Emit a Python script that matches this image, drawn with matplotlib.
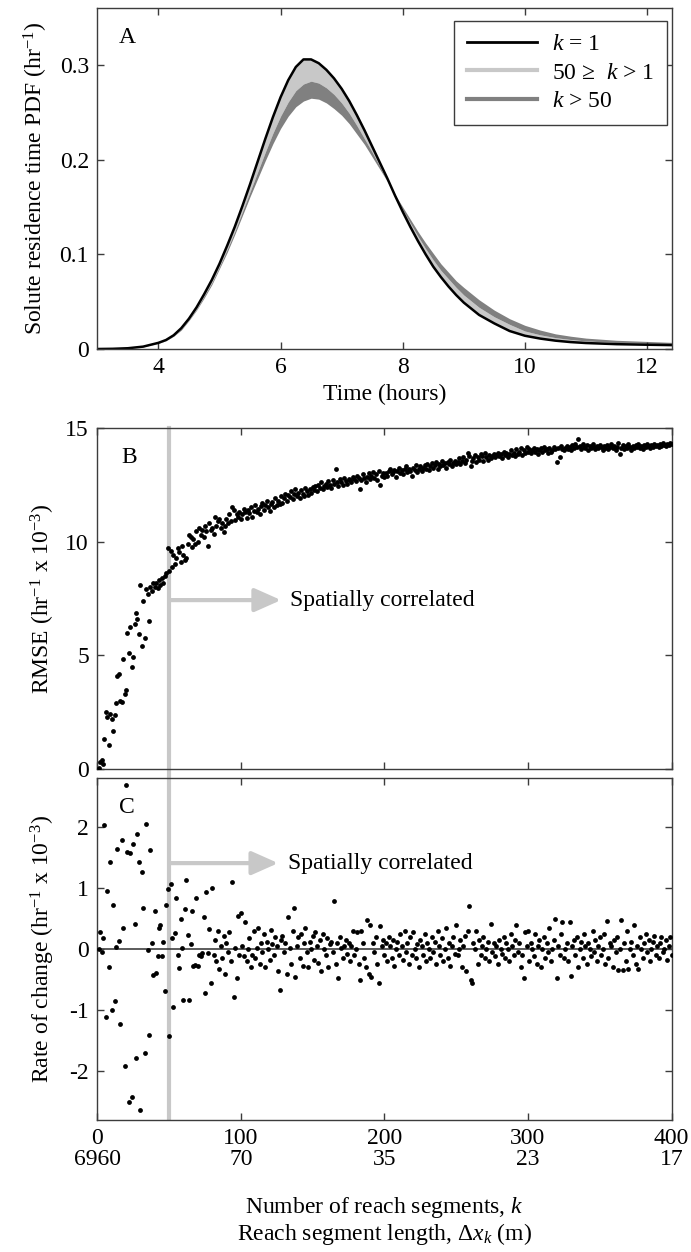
import numpy as np
import matplotlib
matplotlib.use('Agg')
import matplotlib.pyplot as plt

plt.rcParams['font.family'] = ['Liberation Serif', 'DejaVu Serif']
plt.rcParams['font.size'] = 17
plt.rcParams['mathtext.fontset'] = 'custom'
plt.rcParams['mathtext.rm'] = 'Liberation Serif'
plt.rcParams['mathtext.it'] = 'Liberation Serif:italic'
plt.rcParams['axes.unicode_minus'] = False

# ---- Panel A: residence time PDFs ----
time_hr = [3.0, 3.25, 3.5, 3.75,
           4.0, 4.125, 4.25, 4.375, 4.5, 4.625, 4.75, 4.875,
           5.0, 5.125, 5.25, 5.375, 5.5, 5.625, 5.75, 5.875,
           6.0, 6.125, 6.25, 6.375, 6.5, 6.625, 6.75, 6.875,
           7.0, 7.125, 7.25, 7.375, 7.5, 7.625, 7.75, 7.875,
           8.0, 8.125, 8.25, 8.375, 8.5, 8.625, 8.75, 8.875,
           9.0, 9.25, 9.5, 9.75, 10.0, 10.25, 10.5, 10.75, 11.0, 11.5, 12.0, 12.4]
pdf_k1 = [0.0, 0.0002, 0.0008, 0.0025,
          0.0065, 0.0095, 0.0145, 0.022, 0.032, 0.044, 0.058, 0.073,
          0.090, 0.109, 0.129, 0.151, 0.174, 0.198, 0.222, 0.245,
          0.266, 0.284, 0.298, 0.306, 0.306, 0.302, 0.295, 0.286,
          0.275, 0.262, 0.247, 0.231, 0.214, 0.197, 0.180, 0.162,
          0.145, 0.129, 0.114, 0.100, 0.087, 0.076, 0.066, 0.057,
          0.049, 0.036, 0.027, 0.019, 0.014, 0.011, 0.0088, 0.0073, 0.0063, 0.0051, 0.0045, 0.0041]
pdf_k50 = [0.0, 0.0002, 0.0008, 0.0024,
           0.0062, 0.009, 0.014, 0.021, 0.031, 0.042, 0.056, 0.070,
           0.087, 0.105, 0.124, 0.145, 0.166, 0.187, 0.208, 0.228,
           0.246, 0.261, 0.273, 0.280, 0.283, 0.281, 0.276, 0.269,
           0.260, 0.249, 0.236, 0.222, 0.208, 0.193, 0.177, 0.162,
           0.147, 0.133, 0.119, 0.106, 0.094, 0.083, 0.074, 0.065,
           0.057, 0.044, 0.034, 0.026, 0.019, 0.015, 0.012, 0.010, 0.0085, 0.0068, 0.006, 0.0055]
pdf_k400 = [0.0, 0.0002, 0.0008, 0.0023,
            0.006, 0.0088, 0.0135, 0.020, 0.030, 0.041, 0.054, 0.068,
            0.085, 0.102, 0.121, 0.141, 0.161, 0.180, 0.199, 0.217,
            0.233, 0.246, 0.256, 0.262, 0.265, 0.264, 0.260, 0.254,
            0.247, 0.238, 0.227, 0.216, 0.203, 0.190, 0.177, 0.163,
            0.150, 0.137, 0.124, 0.112, 0.101, 0.090, 0.081, 0.072,
            0.065, 0.052, 0.041, 0.032, 0.025, 0.020, 0.016, 0.0135, 0.0115, 0.0092, 0.008, 0.007]

# ---- Panel B: RMSE vs number of reach segments k = 1..400 ----
rmse = [
    0.05, 0.3, 0.4, 0.25, 1.35, 2.5, 2.3, 1.05, 2.45, 2.2, 1.7, 2.4, 2.9, 4.1, 4.2,
    3.0, 2.95, 4.85, 3.3, 3.5, 6.0, 5.1, 6.25, 4.5, 4.95, 6.4, 6.85, 6.6, 5.95, 8.1,
    5.4, 7.4, 5.75, 7.9, 7.7, 6.5, 8.0, 7.85, 8.2, 8.0, 8.2, 7.95, 8.3, 8.1, 8.4,
    8.2, 8.5, 8.6, 9.7, 8.7,
    9.6, 8.9, 9.4, 9.0, 9.3, 9.7, 9.55, 9.1, 9.8, 9.4, 9.2, 9.3, 9.9, 10.3, 10.2,
    9.75, 10.1, 9.9, 10.45, 10.0, 10.6, 10.3, 10.5, 10.2, 10.7,
    10.45, 9.8, 10.8, 10.5, 10.6, 10.35, 11.1, 10.7, 10.9, 11.0, 10.6, 10.8, 10.4,
    10.7, 11.0, 10.8, 11.2, 10.9, 11.5, 11.4, 10.95, 11.2, 11.1, 11.3, 11.0,
    11.2, 11.45, 11.3, 11.05, 11.4, 11.25, 11.5, 11.1, 11.35, 11.6, 11.3, 11.45,
    11.2, 11.55, 11.7, 11.4, 11.6, 11.8, 11.5, 11.35, 11.65, 11.75, 11.5, 11.9, 11.6,
    11.8, 11.65, 12.0, 11.7, 11.9, 12.1, 11.8, 12.05, 11.95, 12.2, 11.85, 12.1, 12.3,
    12.0, 12.15, 11.9, 12.25, 12.1, 12.0, 12.35, 12.2, 12.05, 12.3, 12.15, 12.4,
    12.25, 12.45, 12.2, 12.5, 12.35, 12.6, 12.3, 12.45, 12.55, 12.4, 12.65, 12.5,
    12.35, 12.7, 12.55, 13.2, 12.6, 12.45, 12.75, 12.6, 12.5, 12.8, 12.65, 12.55, 12.75,
    12.7, 12.6, 12.85, 12.75, 12.65, 12.9, 12.8, 12.3, 12.7, 12.95, 12.8, 12.6, 12.85,
    13.0, 12.75, 12.9, 13.05, 12.8, 12.95, 12.7, 13.1, 12.5, 12.9, 13.0, 12.85,
    13.0, 12.9, 13.1, 13.2, 12.95, 13.05, 13.15, 12.85, 13.1, 13.25, 13.0, 13.15,
    12.95, 13.2, 13.3, 13.05, 13.2, 13.1, 12.9, 13.25, 13.15, 13.35, 13.05, 13.2, 13.3,
    13.1, 13.25, 13.35, 13.2, 13.4, 13.15, 13.3, 13.45, 13.25, 13.35, 13.5, 13.2, 13.4,
    13.3, 13.55, 13.35, 13.45, 13.25, 13.5, 13.4, 13.6, 13.3, 13.45, 13.55, 13.4,
    13.5, 13.65, 13.4, 13.55, 13.7, 13.45, 13.6, 13.9, 13.75, 13.3, 13.55, 13.65, 13.8,
    13.5, 13.7, 13.6, 13.85, 13.75, 13.55, 13.9, 13.7, 13.6, 13.8, 13.65, 13.75,
    13.85, 13.7, 13.8, 13.9, 13.75, 13.85, 13.65, 13.95, 13.8, 13.9, 13.7, 13.85, 14.0,
    13.8, 13.9, 13.75, 14.05, 13.85, 13.95, 14.1, 13.8, 14.0, 13.9, 14.15, 13.95,
    14.05, 13.9, 14.0, 14.1, 13.95, 14.05, 13.85, 14.0, 14.1, 13.95, 14.15, 14.0, 14.05,
    13.9, 14.1, 13.95, 14.0, 14.15, 14.05, 13.5, 14.1, 13.7, 14.2, 14.05, 14.0,
    14.1, 14.2, 14.05, 14.15, 14.0, 14.25, 14.1, 14.3, 14.15, 14.5, 14.2, 14.05, 14.3,
    14.15, 14.1, 14.25, 14.0, 14.2, 14.1, 14.3, 14.15, 14.05, 14.2, 14.1, 14.25,
    14.15, 14.0, 14.2, 14.1, 14.25, 14.05, 14.15, 14.3, 14.1, 14.2, 14.0, 14.15, 14.35,
    13.85, 14.1, 14.25, 14.05, 14.2, 14.1, 14.3, 14.15, 14.0, 14.2, 14.1, 14.25,
    14.15, 14.3, 14.1, 14.2, 14.05, 14.25, 14.15, 14.3, 14.2, 14.1, 14.25, 14.15, 14.3,
    14.2, 14.25, 14.15, 14.3, 14.2, 14.35, 14.25, 14.2, 14.3, 14.25, 14.35, 14.3,
]

# ---- Panel C: rate of change of RMSE ----
rate = [
    0.0, 0.28, -0.04, 0.18, 2.03, -1.12, 0.95, -0.29, 1.43, -0.99, 0.73, -0.85, 0.04,
    1.64, 0.13, -1.22, 1.79, 0.35, -1.92, 2.69, 1.6, -2.5, 1.57, -2.43, 1.72,
    0.41, -1.78, 1.89, 1.43, -2.63, 1.27, 0.68, -1.7, 2.05, -0.02, -1.4, 1.62, 0.1,
    -0.42, 0.62, -0.39, -0.12, 0.34, 0.39, -0.12, 0.12, -0.69, 0.72, 0.99, -1.43,
    1.06, 0.18, -0.94, 0.26, 0.84, -0.09, -0.31, 0.49, 0.02, -0.83, 0.65, 1.14, 0.24,
    -0.83, 0.08, 0.62, -0.28, -0.26, 0.84, -0.28, -0.1, -0.12, -0.06, 0.52, -0.72,
    0.94, -0.06, 0.33, -0.55, 1.0, -0.1, 0.15, -0.2, 0.3, -0.32, 0.05, -0.15, 0.22,
    -0.4, 0.1, -0.05, 0.28, -0.2, 1.1, -0.79, 0.02, -0.48, 0.55, -0.1, 0.6,
    0.05, -0.12, 0.45, -0.2, 0.0, 0.18, -0.3, -0.1, 0.3, -0.15, 0.02, 0.35, -0.25,
    0.1, -0.05, 0.25, -0.3, 0.12, 0.0, -0.18, 0.32, 0.08, -0.1, 0.2, 0.05,
    -0.35, -0.67, 0.15, 0.22, -0.05, 0.1, -0.4, 0.52, 0.02, -0.25, 0.3, 0.68, -0.45,
    0.05, 0.2, -0.15, 0.25, -0.28, 0.1, 0.35, -0.05, -0.3, 0.12, 0.0, 0.22,
    -0.18, 0.28, 0.05, -0.22, 0.15, -0.35, 0.25, 0.0, -0.1, 0.18, -0.3, 0.08, 0.12,
    -0.05, 0.79, -0.25, 0.1, -0.47, 0.2, 0.02, -0.15, 0.05, 0.15, -0.08, 0.1,
    -0.2, 0.05, 0.3, -0.1, 0.0, 0.28, -0.25, -0.5, 0.3, 0.1, -0.15, -0.3, 0.48,
    -0.4, 0.4, -0.45, 0.1, -0.05, 0.2, -0.25, -0.56, 0.38, 0.05, 0.15, -0.1,
    0.1, -0.2, 0.2, 0.05, -0.15, 0.15, -0.28, 0.0, 0.12, -0.1, 0.25, 0.05, -0.18,
    0.3, -0.05, 0.1, -0.25, 0.2, -0.1, 0.28, 0.0, -0.15, 0.08, -0.3, 0.15,
    0.05, -0.1, 0.25, -0.2, 0.1, 0.0, -0.15, 0.2, -0.05, 0.12, -0.25, 0.3, 0.05,
    -0.1, 0.18, -0.2, 0.0, 0.35, -0.15, 0.1, -0.28, 0.05, 0.2, -0.08, 0.4,
    -0.1, 0.0, 0.15, -0.3, 0.05, 0.22, -0.35, 0.3, 0.71, -0.5, -0.55, 0.1, 0.0,
    0.3, -0.25, 0.15, -0.1, 0.05, 0.2, -0.15, 0.0, 0.12, -0.2, 0.42, -0.05,
    0.1, -0.12, 0.05, -0.25, 0.15, 0.0, -0.08, 0.2, -0.15, 0.1, 0.0, -0.2, 0.25,
    0.05, -0.1, 0.15, 0.4, -0.05, 0.1, -0.3, -0.1, -0.48, 0.28, 0.05, 0.3,
    -0.2, 0.1, 0.0, -0.12, 0.25, -0.25, 0.05, 0.15, -0.3, 0.0, 0.2, -0.15, 0.1,
    -0.05, 0.35, -0.2, 0.0, 0.15, 0.5, -0.48, 0.05, -0.1, 0.25, 0.45, -0.15,
    0.0, 0.1, -0.2, 0.45, -0.44, 0.05, 0.15, -0.1, 0.2, -0.3, 0.0, 0.12, -0.15,
    0.25, 0.05, -0.25, 0.1, 0.0, -0.12, 0.3, -0.05, 0.15, -0.2, 0.05, 0.2,
    -0.1, 0.0, 0.25, -0.24, 0.46, -0.15, 0.1, 0.05, -0.3, 0.15, -0.05, 0.2, -0.34,
    0.0, 0.47, -0.34, 0.1, -0.2, 0.3, -0.33, 0.0, 0.12, -0.1, 0.4, -0.25,
    0.05, -0.33, 0.2, 0.0, -0.15, 0.1, 0.25, -0.05, 0.15, -0.2, 0.0, 0.12, 0.22,
    -0.1, 0.05, -0.15, 0.1, 0.2, -0.05, 0.0, 0.15, -0.18, 0.05, 0.2, -0.1,
]

k_split = 50
k_ticks = [0, 100, 200, 300, 400]
dx_labels = ['6960', '70', '35', '23', '17']

k_b = np.arange(1, len(rmse) + 1)
k_c = np.arange(1, len(rate) + 1)

SPINE = '#3c3c3c'
LIGHT = '#c8c8c8'
DARK = '#808080'


def style_axes(ax):
    for s in ax.spines.values():
        s.set_color(SPINE)
        s.set_linewidth(1.0)
    ax.tick_params(direction='in', top=True, right=True, length=5,
                   width=1.0, color=SPINE, labelcolor='black', pad=6)


fig = plt.figure(figsize=(6.91, 12.52), dpi=100)
L, W = 0.1408, 0.831
axA = fig.add_axes([L, 0.72125, W, 0.27212])
axB = fig.add_axes([L, 0.38554, W, 0.27284])
axC = fig.add_axes([L, 0.10543, W, 0.27292])

# Panel A
axA.fill_between(time_hr, pdf_k1, pdf_k50, color=LIGHT, lw=0)
axA.fill_between(time_hr, pdf_k50, pdf_k400, color=DARK, lw=0)
axA.plot(time_hr, pdf_k1, color='black', lw=1.8)
axA.plot([], [], color='black', lw=2, label='$k$ = 1')
axA.plot([], [], color=LIGHT, lw=3, label='50 \u2265  $k$ > 1')
axA.plot([], [], color=DARK, lw=3, label='$k$ > 50')
axA.set_xlim(3, 12.4)
axA.set_ylim(0, 0.36)
axA.set_xticks([4, 6, 8, 10, 12])
axA.set_yticks([0, 0.1, 0.2, 0.3])
axA.set_yticklabels(['0', '0.1', '0.2', '0.3'])
axA.set_xlabel('Time (hours)', labelpad=4)
axA.set_ylabel('Solute residence time PDF (hr$^{-1}$)')
axA.yaxis.set_label_coords(-0.083, 0.5)
axA.text(0.052, 0.915, 'A', transform=axA.transAxes, ha='center', va='center')
leg = axA.legend(loc='upper right', bbox_to_anchor=(0.992, 0.964), borderaxespad=0,
                 fancybox=False, framealpha=1, edgecolor=SPINE, handlelength=3.0,
                 handletextpad=0.6, labelspacing=0.3, borderpad=0.55)
leg.get_frame().set_linewidth(1.0)
style_axes(axA)

# Panel B
axB.scatter(k_b, rmse, s=12, color='black', lw=0, zorder=3)
axB.axvline(k_split, ymin=-0.03, ymax=1, color=LIGHT, lw=3, clip_on=False, zorder=1)
axB.annotate('', xy=(128, 7.43), xytext=(k_split, 7.43),
             arrowprops=dict(arrowstyle='-|>,head_length=0.9,head_width=0.4',
                             color=LIGHT, lw=3, shrinkA=0, shrinkB=0, mutation_scale=18))
axB.text(134, 7.43, 'Spatially correlated', ha='left', va='center')
axB.set_xlim(0, 400)
axB.set_ylim(0, 15)
axB.set_xticks(k_ticks)
axB.set_xticklabels([])
axB.set_yticks([0, 5, 10, 15])
axB.set_ylabel('RMSE (hr$^{-1}$ x 10$^{-3}$)')
axB.yaxis.set_label_coords(-0.07, 0.5)
axB.text(0.056, 0.914, 'B', transform=axB.transAxes, ha='center', va='center')
style_axes(axB)

# Panel C
axC.axhline(0, color='#404040', lw=1.2, zorder=2)
axC.axvline(k_split, color=LIGHT, lw=3, zorder=1)
axC.scatter(k_c, rate, s=12, color='black', lw=0, zorder=3)
axC.annotate('', xy=(126, 1.41), xytext=(k_split, 1.41),
             arrowprops=dict(arrowstyle='-|>,head_length=0.9,head_width=0.4',
                             color=LIGHT, lw=3, shrinkA=0, shrinkB=0, mutation_scale=18))
axC.text(133, 1.41, 'Spatially correlated', ha='left', va='center')
axC.set_xlim(0, 400)
axC.set_ylim(-2.8, 2.8)
axC.set_yticks([-2, -1, 0, 1, 2])
axC.set_xticks(k_ticks)
axC.set_xticklabels([f'{k}\n{d}' for k, d in zip(k_ticks, dx_labels)], linespacing=0.95)
axC.set_ylabel('Rate of change (hr$^{-1}$ x 10$^{-3}$)')
axC.yaxis.set_label_coords(-0.07, 0.5)
axC.text(0.052, 0.916, 'C', transform=axC.transAxes, ha='center', va='center')
axC.text(0.5, -0.272, 'Number of reach segments, $k$', transform=axC.transAxes,
         ha='center', va='baseline')
axC.text(0.5, -0.352, 'Reach segment length, $\\Delta x_k$ (m)', transform=axC.transAxes,
         ha='center', va='baseline')
style_axes(axC)

fig.savefig('out.png', dpi=100)
